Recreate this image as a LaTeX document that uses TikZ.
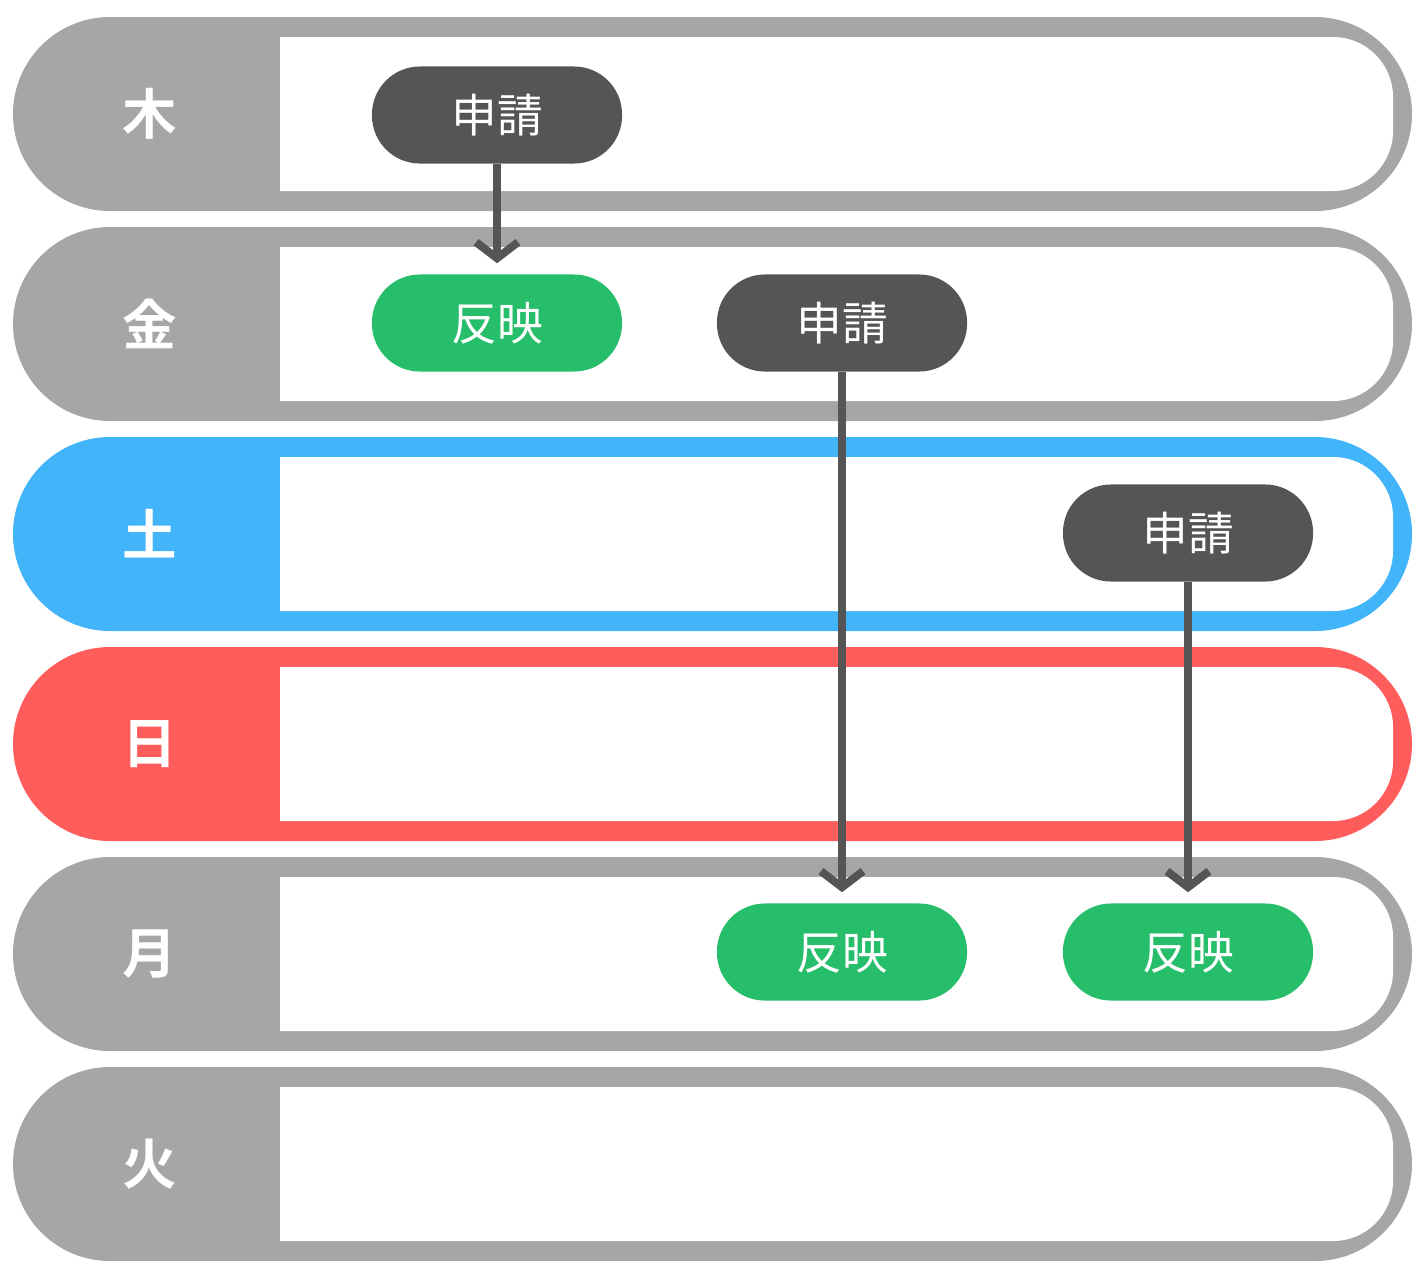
\documentclass[tikz,border=0pt]{standalone}
\usepackage{fontspec}
\setmainfont{Noto Sans CJK JP}
\newfontfamily\daybold{Noto Sans CJK JP Bold}
\usetikzlibrary{arrows.meta}
\definecolor{rowgray}{HTML}{A6A6A6}
\definecolor{rowblue}{HTML}{42B4FA}
\definecolor{rowred}{HTML}{FF5C5C}
\definecolor{pilldark}{HTML}{555555}
\definecolor{pillgreen}{HTML}{26BE6A}
\tikzset{
  pill/.style={rounded corners=0.48cm, minimum width=2.5cm, minimum height=0.97cm,
    text=white, font=\fontsize{13}{13}\selectfont, inner sep=0pt},
  apply/.style={pill, fill=pilldark},
  done/.style={pill, fill=pillgreen},
  arr/.style={pilldark, line width=0.08cm, -{Straight Barb[length=0.16cm, width=0.42cm, line width=0.08cm]}}
}
\begin{document}
\begin{tikzpicture}[x=0.01cm, y=-0.01cm]
    \useasboundingbox (0,0) rectangle (1425,1278);
    % rows
    \foreach \y/\d/\c in {17/木/rowgray, 227/金/rowgray, 437/土/rowblue, 647/日/rowred, 857/月/rowgray, 1067/火/rowgray} {
        \fill[\c, rounded corners=0.97cm] (13,\y) rectangle (1412,\y+194);
        \fill[white, rounded corners=0.6cm] (200,\y+20) rectangle (1393,\y+174);
        \fill[\c] (120,\y+19) rectangle (280,\y+175);
        \node[text=white, font=\daybold\fontsize{15.5}{15.5}\selectfont] at (150,\y+97) {\d};
    }
    % pills
    \node[apply] (s1) at (497,115) {申請};
    \node[done]  (r1) at (497,323) {反映};
    \node[apply] (s2) at (842,323) {申請};
    \node[apply] (s3) at (1188,533) {申請};
    \node[done]  (r2) at (842,952) {反映};
    \node[done]  (r3) at (1188,952) {反映};
    % arrows
    \draw[arr] (s1.south) -- ([yshift=3]r1.north);
    \draw[arr] (s2.south) -- ([yshift=3]r2.north);
    \draw[arr] (s3.south) -- ([yshift=3]r3.north);
\end{tikzpicture}
\end{document}
